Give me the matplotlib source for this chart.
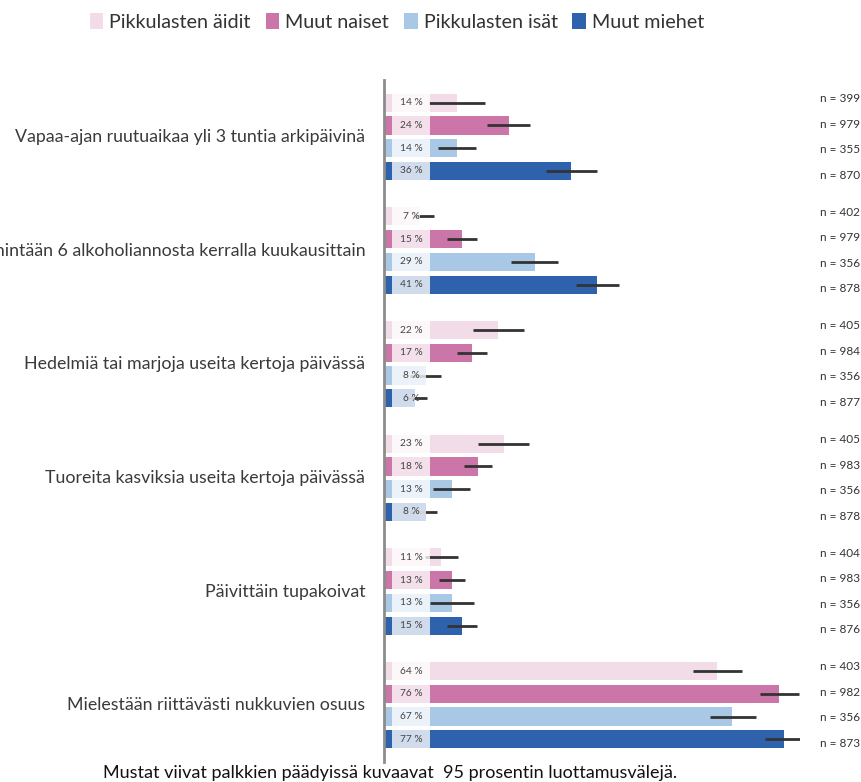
import matplotlib
matplotlib.use("Agg")
import matplotlib.pyplot as plt
from matplotlib.patches import Patch
from matplotlib.transforms import blended_transform_factory

plt.rcParams['font.family'] = ['Lato', 'DejaVu Sans']

# data
categories = [
    "Vapaa-ajan ruutuaikaa yli 3 tuntia arkipäivinä",
    "Vähintään 6 alkoholiannosta kerralla kuukausittain",
    "Hedelmiä tai marjoja useita kertoja päivässä",
    "Tuoreita kasviksia useita kertoja päivässä",
    "Päivittäin tupakoivat",
    "Mielestään riittävästi nukkuvien osuus",
]
groups = ["Pikkulasten äidit", "Muut naiset", "Pikkulasten isät", "Muut miehet"]
colors = ["#F2DCE8", "#CC75A8", "#A9C8E6", "#2E62AD"]

aidit = [14, 7, 22, 23, 11, 64]
naiset = [24, 15, 17, 18, 13, 76]
isat = [14, 29, 8, 13, 13, 67]
miehet = [36, 41, 6, 8, 15, 77]

aidit_lo = [8.6, 5.6, 17.1, 18.1, 7.8, 59.4]
aidit_hi = [19.5, 9.6, 26.9, 27.9, 14.3, 68.8]
naiset_lo = [19.9, 12.1, 14.0, 15.3, 10.5, 72.4]
naiset_hi = [28.1, 17.9, 19.9, 20.7, 15.6, 79.8]
isat_lo = [10.3, 24.5, 5.0, 9.5, 8.9, 62.6]
isat_hi = [17.7, 33.4, 10.9, 16.5, 17.3, 71.6]
miehet_lo = [31.2, 36.9, 4.6, 5.0, 12.1, 73.2]
miehet_hi = [41.0, 45.1, 8.3, 10.1, 17.9, 80.3]

aidit_n = [399, 402, 405, 405, 404, 403]
naiset_n = [979, 979, 984, 983, 983, 982]
isat_n = [355, 356, 356, 356, 356, 356]
miehet_n = [870, 878, 877, 878, 876, 873]

values = [aidit, naiset, isat, miehet]
lows = [aidit_lo, naiset_lo, isat_lo, miehet_lo]
highs = [aidit_hi, naiset_hi, isat_hi, miehet_hi]
ns = [aidit_n, naiset_n, isat_n, miehet_n]

fig = plt.figure(figsize=(8.62, 7.82), dpi=100)
ax = fig.add_axes([384 / 862, 1 - 762 / 782, (800 - 384) / 862, (762 - 80) / 782])

box_start, box_end = 1.54, 8.85
trans = blended_transform_factory(ax.transAxes, ax.transData)

for c, cat in enumerate(categories):
    base = c * 5
    for i in range(4):
        y = base + i
        v = values[i][c]
        ax.barh(y, v, height=0.8, color=colors[i], zorder=2)
        ax.hlines(y, lows[i][c], highs[i][c], color="#333333", lw=2, zorder=3)
        # semi-transparent label box over the start of the bar
        ax.barh(y, min(v, box_end) - box_start, left=box_start, height=0.8,
                color="white", alpha=0.78, lw=0, zorder=4)
        ax.text((box_start + box_end) / 2, y, f"{v} %", ha="center", va="center",
                fontsize=7.3, color="#444444", zorder=5)
        ax.text(1.048, base + 1.5 + (i - 1.5) * 1.12, f"n = {ns[i][c]}",
                transform=trans, ha="left", va="center", fontsize=8.5, color="#333333")
    ax.text(-0.045, base + 1.5, cat, transform=trans, ha="right", va="center",
            fontsize=12.8, color="#3a3a3a", clip_on=False)

ax.set_xlim(0, 80)
ax.set_ylim(29, -1)
for s in ["top", "right", "bottom"]:
    ax.spines[s].set_visible(False)
ax.spines["left"].set_color("#8c8c8c")
ax.spines["left"].set_linewidth(2)
ax.set_xticks([])
ax.set_yticks([])

handles = [Patch(facecolor=col, edgecolor="none") for col in colors]
fig.legend(handles, groups, loc="center", bbox_to_anchor=(397 / 862, 1 - 22 / 782),
           ncol=4, frameon=False, fontsize=14.2, handlelength=0.7, handleheight=0.9,
           handletextpad=0.3, columnspacing=0.75, labelcolor="#333333")

fig.text(390 / 862, 1 - 773 / 782,
         "Mustat viivat palkkien päädyissä kuvaavat  95 prosentin luottamusvälejä.",
         ha="center", va="center", fontsize=13, color="#111111")

fig.savefig("out.png", dpi=100)
